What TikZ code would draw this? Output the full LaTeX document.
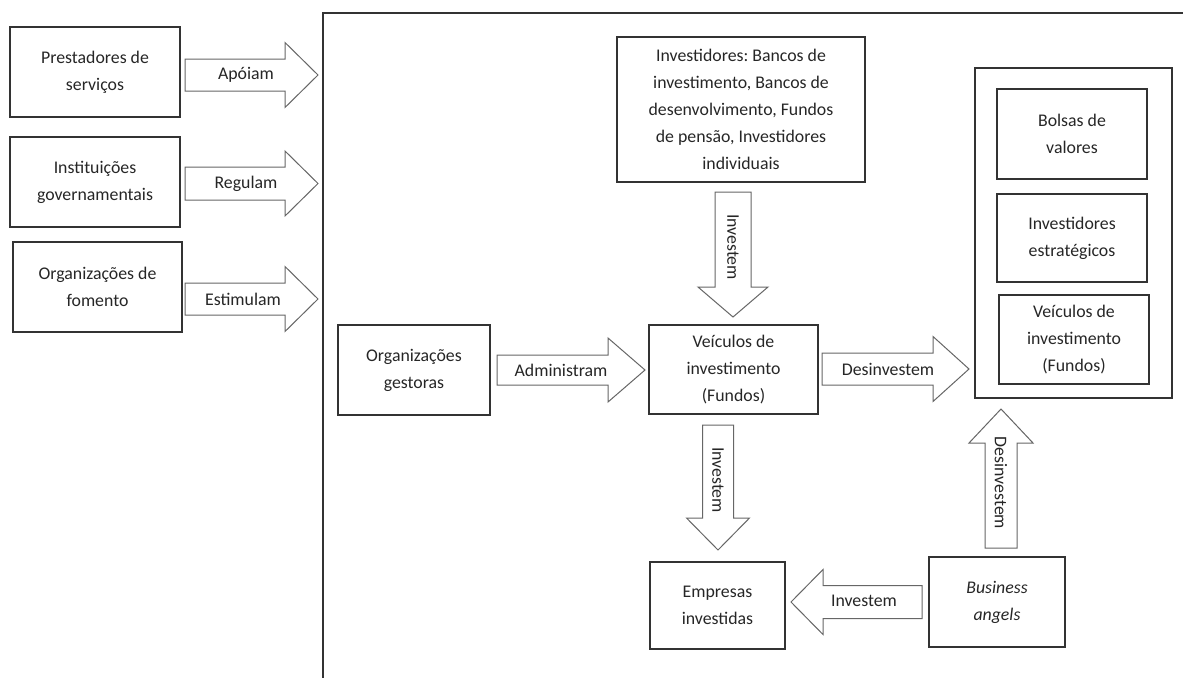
\documentclass[tikz,border=0pt]{standalone}
\usepackage{fontspec}
\setmainfont{Carlito}
\frenchspacing
\begin{document}
\begin{tikzpicture}[x=1pt,y=-1pt,
  box/.style={draw=black!80,line width=1.3pt,align=center,inner sep=0pt,
    font=\fontsize{17.8}{27}\selectfont,text=black!85},
  frameline/.style={draw=black!80,line width=1.5pt},
  barrow/.style={draw=black!60,line width=1pt,fill=white,line join=miter},
  alabel/.style={inner sep=0pt,font=\fontsize{17.8}{21}\selectfont,text=black!85}]
\useasboundingbox (0,0) rectangle (1183,678);
\newcommand\hblk[6]{\draw[barrow] (#1,#4-#5) -- (#2,#4-#5) -- (#2,#4-#6) -- (#3,#4) -- (#2,#4+#6) -- (#2,#4+#5) -- (#1,#4+#5) -- cycle;}
\newcommand\vblk[6]{\draw[barrow] (#4-#5,#1) -- (#4-#5,#2) -- (#4-#6,#2) -- (#4,#3) -- (#4+#6,#2) -- (#4+#5,#2) -- (#4+#5,#1) -- cycle;}
% frame
\coordinate (ftl) at (323,13);
\coordinate (ftr) at (1183,13);
\coordinate (fbl) at (323,678);
\draw[frameline] (ftr) -- (ftl) -- (fbl);
% left boxes
\node[box,minimum width=170,minimum height=90] (p1) at (95,72) {Prestadores de\\serviços};
\node[box,minimum width=170,minimum height=90] (p2) at (95,182) {Instituições\\governamentais};
\node[box,minimum width=169,minimum height=90] (p3) at (97.5,287) {Organizações de\\fomento};
% central boxes
\node[box,minimum width=248,minimum height=145] (inv) at (741,109.5) {Investidores: Bancos de\\investimento, Bancos de\\desenvolvimento, Fundos\\de pensão, Investidores\\individuais};
\node[box,minimum width=152,minimum height=90] (og) at (414,370) {Organizações\\gestoras};
\node[box,minimum width=169,minimum height=89] (vei) at (733.5,369.5) {Veículos de\\investimento\\(Fundos)};
\node[box,minimum width=135,minimum height=87] (emp) at (717.5,605.5) {Empresas\\investidas};
\node[box,minimum width=136,minimum height=90] (ba) at (997,602) {\itshape Business\\\itshape angels};
% right group
\node[box,minimum width=197,minimum height=330] (out) at (1073.5,233) {};
\node[box,minimum width=150,minimum height=90] (bol) at (1072,134) {Bolsas de\\valores};
\node[box,minimum width=150,minimum height=88] (ies) at (1072,238) {Investidores\\estratégicos};
\node[box,minimum width=150,minimum height=89] (vf) at (1074,339.5) {Veículos de\\investimento\\(Fundos)};
% block arrows
\hblk{185}{285}{318}{75}{16}{32.5}
\node[alabel] (a1) at (246,75) {Apóiam};
\hblk{185}{285}{318}{183.5}{16.5}{32.5}
\node[alabel] (a2) at (246,183.5) {Regulam};
\hblk{185}{285}{318}{299}{16}{32.5}
\node[alabel] (a3) at (243,299) {Estimulam};
\hblk{497}{608}{645}{370}{15}{32}
\node[alabel] (a4) at (561,370) {Administram};
\hblk{822}{933}{969}{369}{16}{32.5}
\node[alabel] (a5) at (888,369) {Desinvestem};
\vblk{192}{287}{317}{733}{18}{35}
\node[alabel,rotate=-90] (a6) at (733,247) {Investem};
\vblk{425}{518}{550}{718}{15.5}{31.5}
\node[alabel,rotate=-90] (a7) at (718,480) {Investem};
\hblk{922}{823}{791}{602}{16.5}{32.5}
\node[alabel] (a8) at (864,601) {Investem};
\vblk{548}{443}{409}{1001}{16}{32}
\node[alabel,rotate=-90] (a9) at (1001,483) {Desinvestem};
\end{tikzpicture}
\end{document}
